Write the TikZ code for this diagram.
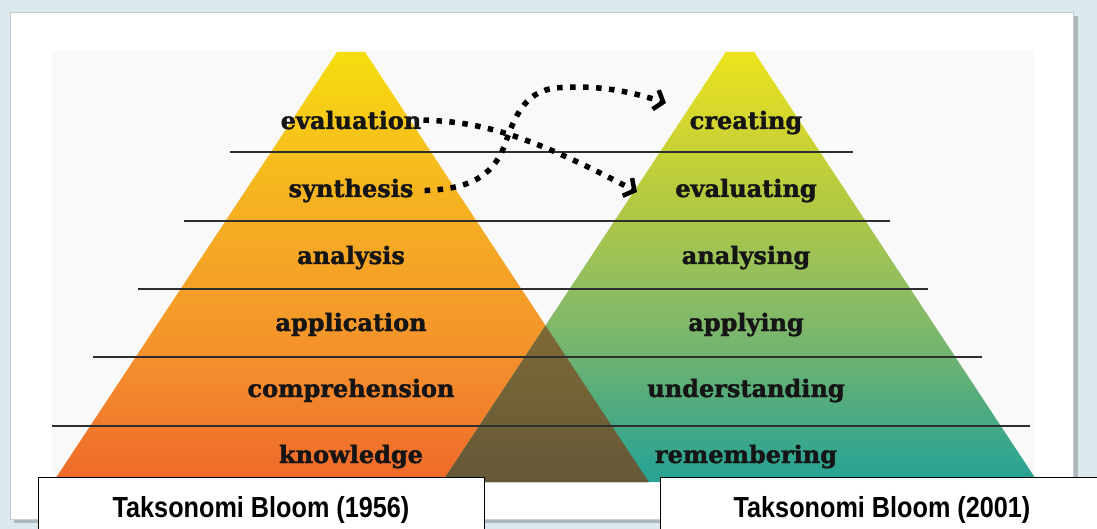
\documentclass[tikz,border=0pt]{standalone}
\usepackage{fontspec}
\usetikzlibrary{arrows.meta}
\newfontfamily\levelfont{DejaVu Serif}[FakeBold=1.6]
\newfontfamily\captionfont{Liberation Sans}[FakeStretch=0.87]

\definecolor{pagebg}{HTML}{DCE9EE}
\definecolor{cardshadow}{HTML}{AEB7BA}
\definecolor{cardedge}{HTML}{C5CED1}
\definecolor{plate}{HTML}{F9F9F9}
\definecolor{ink}{HTML}{151515}
\definecolor{rulegray}{HTML}{2E2E2E}
% 1956 pyramid, base to tip
\definecolor{oA}{HTML}{EE6A28}
\definecolor{oB}{HTML}{EF6F2A}
\definecolor{oC}{HTML}{F3862D}
\definecolor{oD}{HTML}{F4982A}
\definecolor{oE}{HTML}{F5A625}
\definecolor{oF}{HTML}{F6B520}
\definecolor{oG}{HTML}{F7C819}
\definecolor{oH}{HTML}{F4DE0E}
% 2001 pyramid, base to tip
\definecolor{gA}{HTML}{28A293}
\definecolor{gB}{HTML}{30A590}
\definecolor{gC}{HTML}{58AD7B}
\definecolor{gD}{HTML}{80B86A}
\definecolor{gE}{HTML}{9DC256}
\definecolor{gF}{HTML}{B8CB3E}
\definecolor{gG}{HTML}{D2D630}
\definecolor{gH}{HTML}{ECE31A}
% where the two pyramids overlap
\definecolor{ovTop}{HTML}{7E6A36}
\definecolor{ovBot}{HTML}{655838}

\pgfdeclareverticalshading{oldpyramid}{100bp}{color(0bp)=(oA); color(25bp)=(oA);
  color(27.44bp)=(oB); color(35.35bp)=(oC); color(43.26bp)=(oD); color(51.16bp)=(oE);
  color(58.95bp)=(oF); color(66.86bp)=(oG); color(75bp)=(oH); color(100bp)=(oH)}
\pgfdeclareverticalshading{newpyramid}{100bp}{color(0bp)=(gA); color(25bp)=(gA);
  color(27.44bp)=(gB); color(35.35bp)=(gC); color(43.26bp)=(gD); color(51.16bp)=(gE);
  color(58.95bp)=(gF); color(66.86bp)=(gG); color(75bp)=(gH); color(100bp)=(gH)}

\begin{document}
\begin{tikzpicture}[x=1pt,y=-1pt,
  level/.style={font=\levelfont\bfseries\fontsize{24}{27}\selectfont, text=ink,
    inner sep=2pt, anchor=base},
  tierline/.style={draw=rulegray, line width=2pt},
  flow/.style={draw=black, line width=5.5pt, line cap=butt, dash pattern=on 5.5pt off 7.5pt,
    -{Straight Barb[length=8pt,width=20pt,line width=4.5pt]}},
  titlebox/.style={draw=black, line width=1.3pt, fill=white, inner sep=0pt,
    minimum width=446pt, minimum height=70pt, anchor=north west},
  titletext/.style={font=\captionfont\bfseries\fontsize{29}{32}\selectfont,
    text=black, inner sep=0pt, anchor=base}]

\useasboundingbox (0,0) rectangle (1097,529);
\fill[pagebg] (0,0) rectangle (1097,529);

% card with its shadow
\fill[cardshadow] (14,16) rectangle (1078,523);
\filldraw[fill=white, draw=cardedge, line width=0.8pt] (10,12) rectangle (1073,519);
\fill[plate] (52,50) rectangle (1035,482);

% the two pyramids
\begin{scope}
  \clip (52,50) rectangle (1035,482);
  \shade[shading=oldpyramid] (337,52) -- (365,52) -- (648.8,482) -- (53.2,482) -- cycle;
  \shade[shading=newpyramid] (726,52) -- (754,52) -- (1037.8,482) -- (442.2,482) -- cycle;
  \shade[top color=ovTop, bottom color=ovBot] (545.5,325.5) -- (648.8,482) -- (442.2,482) -- cycle;
\end{scope}

% tier separators
\draw[tierline] (230,152) -- (853,152);
\draw[tierline] (184,221) -- (890,221);
\draw[tierline] (138,289) -- (928,289);
\draw[tierline] (93,357) -- (982,357);
\draw[tierline] (52,426) -- (1030,426);

% 1956 levels
\node[level] (evaluation)    at (351,129) {evaluation};
\node[level] (synthesis)     at (351,197) {synthesis};
\node[level] (analysis)      at (351,264) {analysis};
\node[level] (application)   at (351,331) {application};
\node[level] (comprehension) at (351,397) {comprehension};
\node[level] (knowledge)     at (351,463) {knowledge};

% 2001 levels
\node[level] (creating)      at (746,129) {creating};
\node[level] (evaluating)    at (746,197) {evaluating};
\node[level] (analysing)     at (746,264) {analysing};
\node[level] (applying)      at (746,331) {applying};
\node[level] (understanding) at (746,397) {understanding};
\node[level] (remembering)   at (746,463) {remembering};

% renamed levels swap places
\coordinate (tipA) at (637,192);
\coordinate (tipB) at (666,103);
\draw[flow] (evaluation.east) .. controls (475,122) and (520,130) .. (tipA);
\draw[flow] ([xshift=9pt]synthesis.east) .. controls (470,189) and (492,176) .. (504,147)
  .. controls (515,115) and (525,92) .. (555,88)
  .. controls (600,84) and (635,93) .. (tipB);

% captions
\node[titlebox] (oldbox) at (38,477) {};
\node[titlebox, minimum width=444pt] (newbox) at (660,477) {};
\node[titletext] (oldtitle) at (261,517) {Taksonomi Bloom (1956)};
\node[titletext] (newtitle) at (882,517) {Taksonomi Bloom (2001)};
\end{tikzpicture}
\end{document}
